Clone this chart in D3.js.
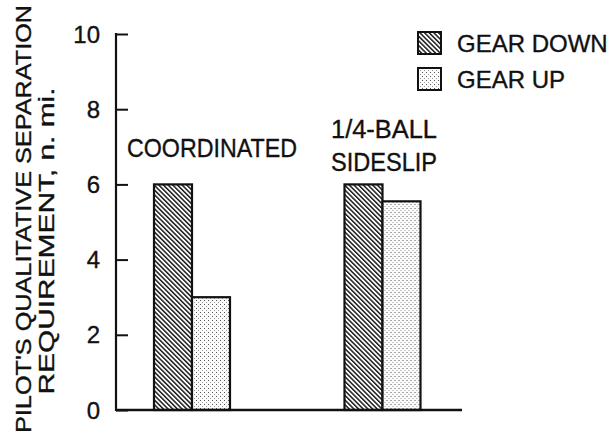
<!DOCTYPE html>
<html>
<head>
<meta charset="utf-8">
<script src="https://cdn.jsdelivr.net/npm/d3@7"></script>
<style>
  html, body { margin: 0; padding: 0; background: #fff; }
  svg { display: block; }
  text { font-family: "Liberation Sans", Arial, Helvetica, sans-serif; fill: #111; stroke: #111; stroke-width: 0.35; }
</style>
</head>
<body>
<script>
// Flight conditions along the x axis and the two landing-gear configurations
const conditions = ["COORDINATED", "SIDESLIP"];
const conditionLabels = [["COORDINATED"], ["1/4-BALL", "SIDESLIP"]];
const series = ["GEAR DOWN", "GEAR UP"];
const gearDown = [6.0, 6.0];
const gearUp = [3.0, 5.55];
const yTicks = [0, 2, 4, 6, 8, 10];

const W = 610, H = 439;
const svg = d3.select("body").append("svg").attr("width", W).attr("height", H);

// Fill patterns: diagonal hatch for gear down, fine stipple for gear up
const defs = svg.append("defs");
const hatch = defs.append("pattern")
  .attr("id", "hatch").attr("patternUnits", "userSpaceOnUse")
  .attr("width", 3.3).attr("height", 3.3)
  .attr("patternTransform", "rotate(-45)");
hatch.append("rect").attr("width", 3.3).attr("height", 3.3).attr("fill", "#fff");
hatch.append("rect").attr("x", 0).attr("y", 0).attr("width", 1.5).attr("height", 3.3).attr("fill", "#1a1a1a");

const dots = defs.append("pattern")
  .attr("id", "dots").attr("patternUnits", "userSpaceOnUse")
  .attr("width", 4).attr("height", 4);
dots.append("rect").attr("width", 4).attr("height", 4).attr("fill", "#fbfbfb");
dots.append("rect").attr("x", 0).attr("y", 0).attr("width", 1).attr("height", 1).attr("fill", "#555");
dots.append("rect").attr("x", 2).attr("y", 2).attr("width", 1).attr("height", 1).attr("fill", "#999");

const fills = { "GEAR DOWN": "url(#hatch)", "GEAR UP": "url(#dots)" };

const y = d3.scaleLinear().domain([0, 10]).range([410, 34]);
const x0 = d3.scalePoint().domain(conditions).range([192, 382.5]);
const x1 = d3.scaleBand().domain(series).range([-38, 38]).padding(0);

const axisX = 116;

// Y axis with inward ticks
const yAxis = d3.axisRight(y).tickValues(yTicks).tickSize(12).tickFormat("");
const gy = svg.append("g").attr("transform", `translate(${axisX},0)`).call(yAxis);
gy.select(".domain").remove();
gy.selectAll(".tick line").attr("stroke", "#111").attr("stroke-width", 2);
svg.append("line")
  .attr("x1", axisX).attr("x2", axisX)
  .attr("y1", y(10) - 1).attr("y2", y(0) + 1)
  .attr("stroke", "#111").attr("stroke-width", 2.2);

// Tick labels
svg.append("g").selectAll("text").data(yTicks).join("text")
  .attr("x", 100).attr("y", d => y(d) + 8.5)
  .attr("text-anchor", "end")
  .attr("font-size", 24)
  .text(d => d);

// Bars
const rows = conditions.map((c, i) => ({ cond: c, values: [gearDown[i], gearUp[i]] }));
svg.append("g").selectAll("g").data(rows).join("g")
  .attr("transform", d => `translate(${x0(d.cond)},0)`)
  .selectAll("rect").data(d => d.values.map((v, j) => ({ key: series[j], v })))
  .join("rect")
  .attr("x", d => x1(d.key))
  .attr("y", d => y(d.v))
  .attr("width", x1.bandwidth())
  .attr("height", d => y(0) - y(d.v))
  .attr("fill", d => fills[d.key])
  .attr("stroke", "#111").attr("stroke-width", 2.2);

// Baseline
svg.append("line")
  .attr("x1", axisX).attr("x2", 462)
  .attr("y1", y(0)).attr("y2", y(0))
  .attr("stroke", "#111").attr("stroke-width", 2.5);

// Condition labels
svg.append("text").attr("x", 127).attr("y", 157)
  .attr("font-size", 25).attr("textLength", 170).attr("lengthAdjust", "spacingAndGlyphs")
  .text(conditionLabels[0][0]);
svg.append("text").attr("x", 331).attr("y", 138)
  .attr("font-size", 25).attr("textLength", 106).attr("lengthAdjust", "spacingAndGlyphs")
  .text(conditionLabels[1][0]);
svg.append("text").attr("x", 331).attr("y", 171)
  .attr("font-size", 25).attr("textLength", 106).attr("lengthAdjust", "spacingAndGlyphs")
  .text(conditionLabels[1][1]);

// Y axis title
svg.append("text")
  .attr("transform", "translate(31,219) rotate(-90)")
  .attr("text-anchor", "middle").attr("font-size", 22)
  .attr("textLength", 428).attr("lengthAdjust", "spacingAndGlyphs")
  .text("PILOT'S QUALITATIVE  SEPARATION");
svg.append("text")
  .attr("transform", "translate(54,241) rotate(-90)")
  .attr("text-anchor", "middle").attr("font-size", 22)
  .attr("textLength", 307).attr("lengthAdjust", "spacingAndGlyphs")
  .text("REQUIREMENT,  n. mi.");

// Legend
const legend = svg.append("g").selectAll("g").data(series).join("g")
  .attr("transform", (d, i) => `translate(418,${32 + i * 36})`);
legend.append("rect")
  .attr("width", 23).attr("height", 22)
  .attr("fill", d => fills[d])
  .attr("stroke", "#111").attr("stroke-width", 2);
legend.append("text")
  .attr("x", 39).attr("y", 20)
  .attr("font-size", 24)
  .text(d => d);
</script>
</body>
</html>
